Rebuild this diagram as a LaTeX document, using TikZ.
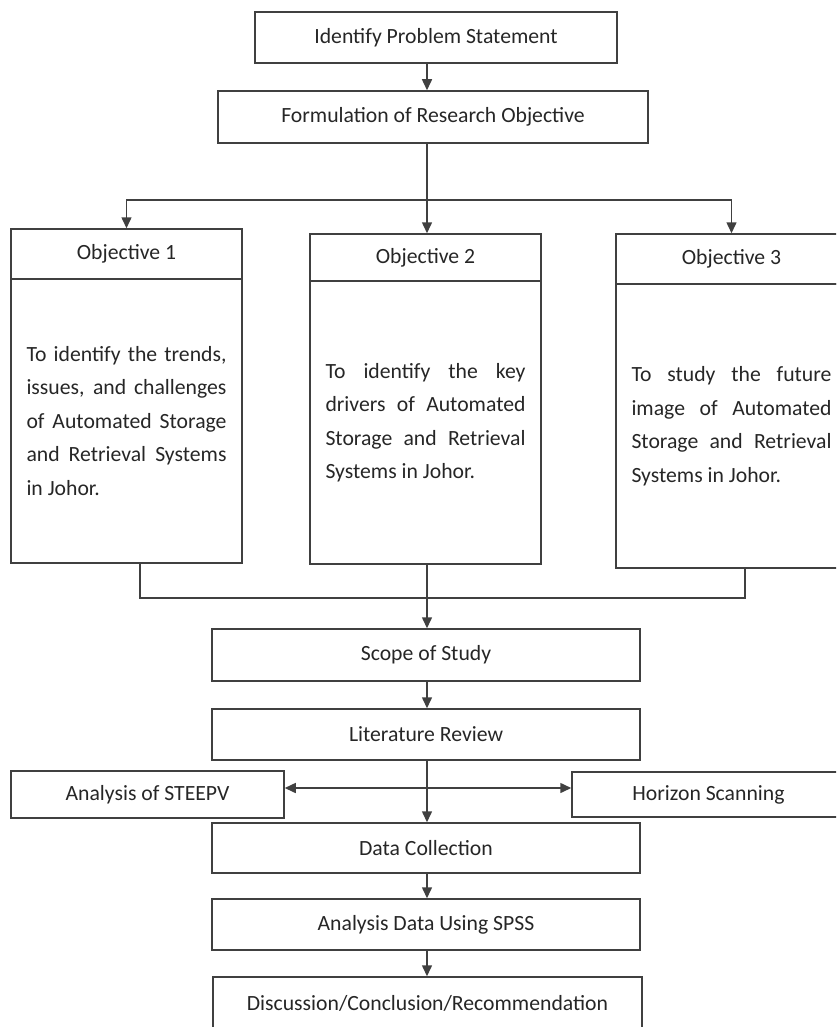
\documentclass[tikz,border=0pt]{standalone}
\usepackage{fontspec}
\setmainfont{Carlito}
\usepackage{tikz}
\usetikzlibrary{shapes,positioning,calc}
\usetikzlibrary{arrows.meta}
\tikzstyle{stage} = [rectangle, 
minimum width=428pt, minimum height=51pt, inner sep=0pt, text centered, draw=black!75, line width=1.5pt]
\tikzstyle{objhead} = [rectangle, minimum width=231pt, minimum height=50pt, inner sep=0pt, text centered, draw=black!75, line width=1.5pt]
\tikzstyle{objbody} = [rectangle, text width=200pt, inner xsep=15.5pt, inner ysep=0pt, minimum height=284pt, align=justify, draw=black!75, line width=1.5pt]
\tikzstyle{line} = [draw=black!75, line width=1.5pt]
\tikzstyle{arrow} = [draw=black!75, line width=1.5pt, -{Triangle[length=11pt,width=10pt]}]

\begin{document}
\begin{tikzpicture}[x=1pt,y=-1pt,font=\fontsize{21.7}{33.5}\selectfont,text=black!85]
							\useasboundingbox (0,0) rectangle (836,1027);
							\clip (0,0) rectangle (836,1027);
							\coordinate (spine) at (427,0);
							\coordinate (fork) at (427,200);
							\coordinate (j1) at (140,598);
							\coordinate (j3) at (745,598);
							\coordinate (side) at (0,788);
							\node (prob) at (436,37.5) [stage, minimum width=362pt] {Identify Problem Statement};
							\node (form) at (433,117) [stage, minimum width=430pt, minimum height=52pt] {Formulation of Research Objective};
							\node (o1h) at (126.5,254) [objhead] {Objective 1};
							\node (o1b) at (126.5,421) [objbody] {To identify the trends,\linebreak issues, and challenges\linebreak of Automated Storage\linebreak and Retrieval Systems\linebreak in Johor.};
							\node (o2h) at (425.5,257.5) [objhead, minimum height=47pt] {Objective 2};
							\node (o2b) at (425.5,422.5) [objbody, minimum height=283pt] {To identify the key\linebreak drivers of Automated\linebreak Storage and Retrieval\linebreak Systems in Johor.};
							\node (o3h) at (731.5,259) [objhead] {Objective 3};
							\node (o3b) at (731.5,426) [objbody] {To study the future\linebreak image of Automated\linebreak Storage and Retrieval\linebreak Systems in Johor.};
							\node (scope) at (426,655) [stage, minimum height=52pt] {Scope of Study};
							\node (lit) at (426,734.5) [stage] {Literature Review};
							\node (steepv) at (147.5,794.5) [stage, minimum width=273pt, minimum height=47pt] {Analysis of STEEPV};
							\node (horizon) at (708.5,794.5) [stage, minimum width=273pt, minimum height=45pt] {Horizon Scanning};
							\node (data) at (426,848) [stage, minimum height=50pt] {Data Collection};
							\node (spss) at (426,924.5) [stage] {Analysis Data Using SPSS};
							\node (disc) at (427.5,1003) [stage, minimum width=429pt, minimum height=52pt] {Discussion/Conclusion/Recommendation};
							\draw[arrow] (prob.south -| spine) -- (form.north -| spine);
							\draw[line] (form.south -| spine) -- (fork);
							\draw[arrow] (fork) -| (o1h.north);
							\draw[arrow] (fork) -- (o2h.north -| spine);
							\draw[arrow] (fork) -| (o3h.north);
							\draw[line] (o1b.south -| j1) -- (j1) -- (j3) -- (o3b.south -| j3);
							\draw[arrow] (o2b.south -| spine) -- (scope.north -| spine);
							\draw[arrow] (scope.south -| spine) -- (lit.north -| spine);
							\draw[arrow] (lit.south -| spine) -- (data.north -| spine);
							\draw[arrow, {Triangle[length=11pt,width=10pt]}-{Triangle[length=11pt,width=10pt]}] (steepv.east |- side) -- (horizon.west |- side);
							\draw[arrow] (data.south -| spine) -- (spss.north -| spine);
							\draw[arrow] (spss.south -| spine) -- (disc.north -| spine);
						\end{tikzpicture}
\end{document}
